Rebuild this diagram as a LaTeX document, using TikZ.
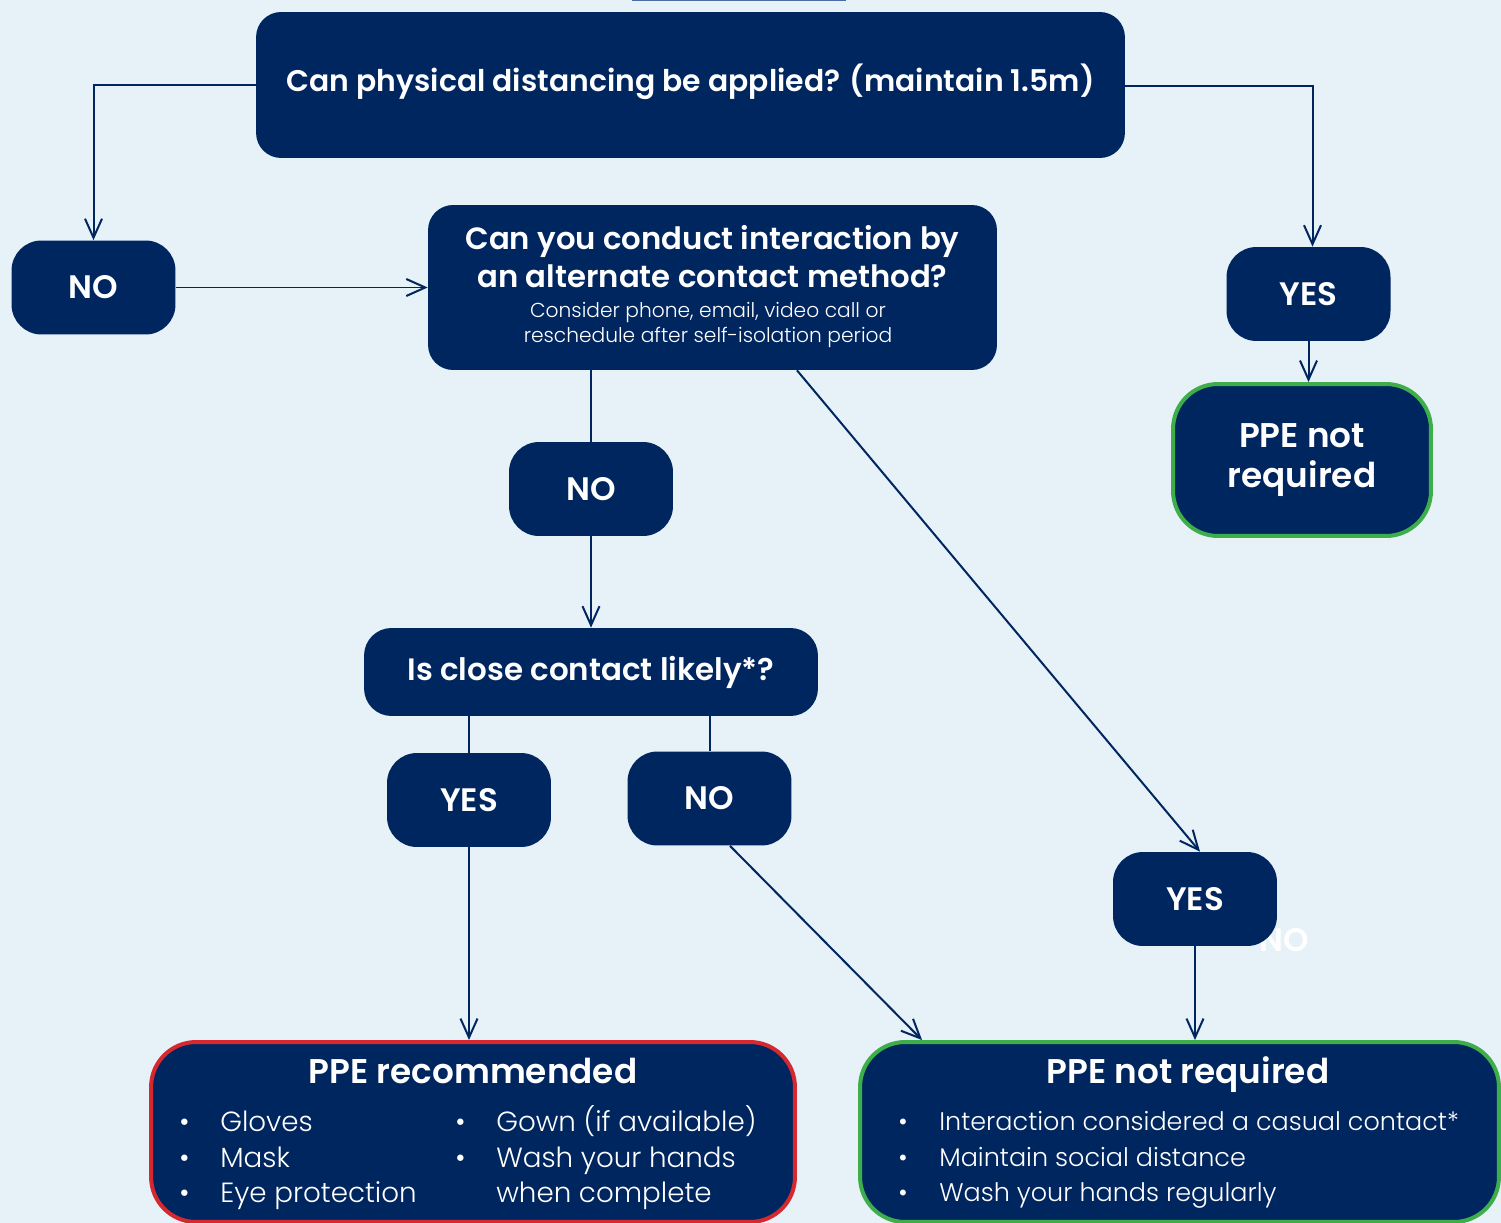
\documentclass[tikz,border=0pt]{standalone}
\usepackage{fontspec}
\setmainfont{Poppins}
\IfFontExistsTF{Poppins SemiBold}{\newfontfamily\medfont{Poppins SemiBold}}{%
  \IfFontExistsTF{Poppins Medium}{\newfontfamily\medfont{Poppins Medium}}{\newfontfamily\medfont{Poppins}}}
\IfFontExistsTF{Poppins Light}{\newfontfamily\lightfont{Poppins Light}}{\newfontfamily\lightfont{Poppins}}
\usetikzlibrary{
  arrows.meta,
  positioning
}
\definecolor{bgcolor}{RGB}{230, 241, 248}
\definecolor{navycolor}{RGB}{0, 38, 96}
\definecolor{okcolor}{RGB}{61, 174, 73}
\definecolor{warncolor}{RGB}{214, 40, 47}
\definecolor{slivercolor}{RGB}{74, 108, 163}
\tikzset{
boxtext/.style={
  align=center,
  text=white,
  font=\medfont\fontsize{17.5}{21.6}\selectfont
},
bullettext/.style={
  anchor=base west,
  inner sep=0pt,
  text=white,
  font=\lightfont\fontsize{15.8}{20}\selectfont
},
flowline/.style={
  draw=navycolor,
  line width=0.04cm
},
flowarrow/.style={
  flowline,
  -{Straight Barb[length=0.38cm, width=0.34cm, line width=0.04cm]}
}
}

\begin{document}
\begin{tikzpicture}[
    x=0.02cm, y=-0.02cm,
    % Estilos das caixas
    questionbox/.style={
        rectangle, rounded corners=0.5cm,
        fill=navycolor, boxtext
    },
    answerbox/.style={
        rectangle, rounded corners=0.6cm,
        minimum width=3.28cm, minimum height=1.88cm,
        fill=navycolor, boxtext,
        font=\medfont\fontsize{18.5}{21.6}\selectfont
    },
    resultbox/.style={
        rectangle, rounded corners=0.9cm,
        fill=navycolor, draw=#1, line width=0.08cm, boxtext
    },
    titletext/.style={anchor=base, text=white, font=\medfont\fontsize{19.5}{23}\selectfont},
    notetext/.style={text=white, align=center, font=\lightfont\fontsize{11.5}{13.7}\selectfont}
]
\useasboundingbox (0,0) rectangle (1501,1223);
\clip (0,0) rectangle (1501,1223);
\fill[bgcolor] (0,0) rectangle (1501,1223);
\fill[slivercolor] (632,-6) rectangle (846,1.5);

% ============================================================================
% PERGUNTA INICIAL
% ============================================================================
\node[questionbox, minimum width=17.38cm, minimum height=2.92cm] (topq) at (690.5, 85) {};
\node[boxtext, font=\medfont\fontsize{17}{21.6}\selectfont] (topqtext) at (690.5, 82) {Can physical distancing be applied? (maintain 1.5m)};

\node[answerbox] (nodist) at (93.5, 287.5) {NO};
\node[answerbox] (yesdist) at (1308.5, 294) {YES};
\node[resultbox=okcolor, minimum width=5.16cm, minimum height=3.04cm,
      font=\medfont\fontsize{19.5}{22.8}\selectfont] (ppesmall) at (1302, 460) {PPE not\\required};

\draw[flowarrow] (topq.west) -| (nodist.north);
\draw[flowarrow] ([yshift=-0.02cm]topq.east) -| ([xshift=0.08cm]yesdist.north);
\draw[flowarrow] (yesdist.south) -- (yesdist.south |- ppesmall.north);

% ============================================================================
% CONTATO ALTERNATIVO
% ============================================================================
\node[questionbox, minimum width=11.38cm, minimum height=3.3cm] (altq) at (712.5, 287.5) {};
\node[boxtext] (altqtext) at (712.5, 257) {Can you conduct interaction by\\an alternate contact method?};
\node[notetext] (altnote) at (708, 325) {Consider phone, email, video call or\\reschedule after self-isolation period};

\draw[flowarrow] (nodist.east) -- (altq.west);

\node[answerbox] (noalt) at (591, 489) {NO};
\node[answerbox, font=\medfont\fontsize{18.5}{21.6}\selectfont, text=white, fill=none] (strayno) at (1284, 940) {NO};
\node[answerbox] (yesalt) at (1195, 899) {YES};

\draw[flowline] (altq.south -| noalt) -- (noalt.north);
\draw[flowarrow] ([xshift=1.69cm]altq.south) -- ([xshift=0.1cm]yesalt.north);

% ============================================================================
% CONTATO PROXIMO
% ============================================================================
\node[questionbox, rounded corners=0.55cm, minimum width=9.08cm, minimum height=1.76cm,
      font=\medfont\fontsize{17.6}{21.6}\selectfont] (closeq) at (591, 672) {Is close contact likely*?};

\draw[flowarrow] (noalt.south) -- (closeq.north);

\node[answerbox] (yesclose) at (469, 800) {YES};
\node[answerbox] (noclose) at (709.5, 798.5) {NO};

\draw[flowline] (closeq.south -| yesclose) -- (yesclose.north);
\draw[flowline] (closeq.south -| noclose) -- (noclose.north);

% ============================================================================
% RESULTADOS
% ============================================================================
\node[resultbox=warncolor, minimum width=12.88cm, minimum height=3.6cm] (ppereco) at (473, 1132) {};
\node[titletext] (ppereco_title) at (473, 1083) {PPE recommended};
\node[bullettext] (reco_a) at (179, 1131) {\makebox[0.82cm][l]{•}Gloves};
\node[bullettext] (reco_b) at (179, 1167) {\makebox[0.82cm][l]{•}Mask};
\node[bullettext] (reco_c) at (179, 1202) {\makebox[0.82cm][l]{•}Eye protection};
\node[bullettext] (reco_d) at (455, 1131) {\makebox[0.82cm][l]{•}Gown (if available)};
\node[bullettext] (reco_e) at (455, 1167) {\makebox[0.82cm][l]{•}Wash your hands};
\node[bullettext] (reco_f) at (455, 1202) {\makebox[0.82cm][l]{}when complete};

\node[resultbox=okcolor, minimum width=12.78cm, minimum height=3.6cm] (ppenot) at (1179.5, 1132) {};
\node[titletext] (ppenot_title) at (1188, 1083) {PPE not required};
\node[bullettext, font=\lightfont\fontsize{14.5}{20}\selectfont] (not_a) at (898, 1130) {\makebox[0.82cm][l]{•}Interaction considered a casual contact*};
\node[bullettext, font=\lightfont\fontsize{14.5}{20}\selectfont] (not_b) at (898, 1166) {\makebox[0.82cm][l]{•}Maintain social distance};
\node[bullettext, font=\lightfont\fontsize{14.5}{20}\selectfont] (not_c) at (898, 1201) {\makebox[0.82cm][l]{•}Wash your hands regularly};

\draw[flowarrow] (yesclose.south) -- (yesclose.south |- ppereco.north);
\draw[flowarrow] ([xshift=0.41cm]noclose.south) -- ([xshift=-5.15cm]ppenot.north);
\draw[flowarrow] (yesalt.south) -- (yesalt.south |- ppenot.north);

\end{tikzpicture}
\end{document}
